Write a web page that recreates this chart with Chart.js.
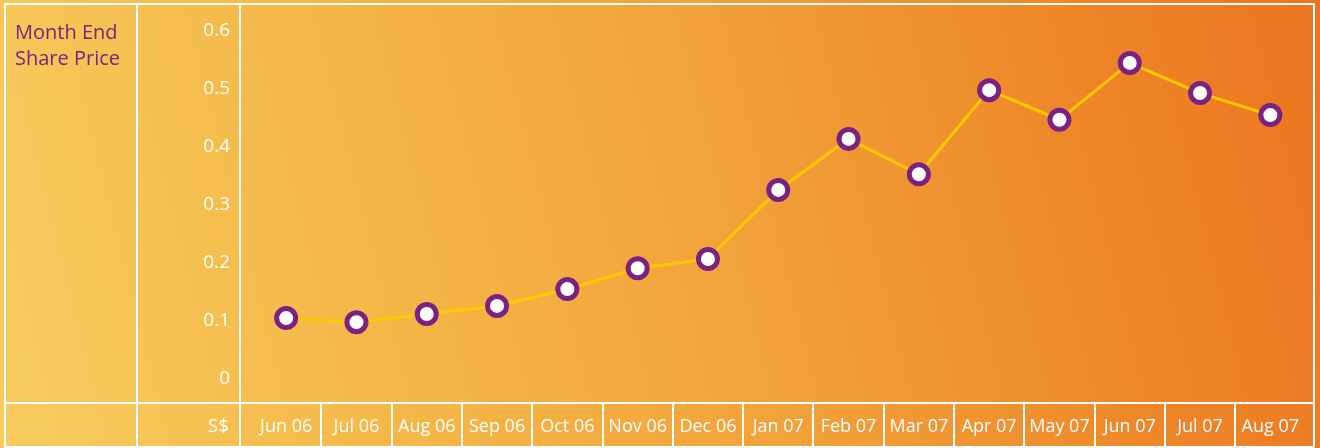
<!DOCTYPE html>
<html>
<head>
<meta charset="utf-8">
<script src="https://cdn.jsdelivr.net/npm/chart.js@4"></script>
<style>
  html, body { margin: 0; padding: 0; }
  body {
    width: 1320px; height: 448px; overflow: hidden;
    background: linear-gradient(76deg, #f7cd5e 0%, #f4b647 30%, #f2a23a 55%, #ee8a2a 78%, #ec7520 100%);
  }
  #wrap { position: relative; width: 1320px; height: 448px; }
</style>
</head>
<body>
<div id="wrap"><canvas id="priceChart" width="1320" height="448"></canvas></div>
<script>
const months = ['Jun 06', 'Jul 06', 'Aug 06', 'Sep 06', 'Oct 06', 'Nov 06', 'Dec 06',
                'Jan 07', 'Feb 07', 'Mar 07', 'Apr 07', 'May 07', 'Jun 07', 'Jul 07', 'Aug 07'];
const sharePrice = [0.105, 0.098, 0.112, 0.126, 0.155, 0.191, 0.207,
                    0.326, 0.414, 0.353, 0.498, 0.447, 0.545, 0.493, 0.455];
const yTicks = [0, 0.1, 0.2, 0.3, 0.4, 0.5, 0.6];

const FONT = '"Open Sans", "DejaVu Sans", sans-serif';
const PURPLE = '#7a2183';

// white table lines and side labels
const framePlugin = {
    id: 'frame',
    beforeDatasetsDraw(chart) {
        const ctx = chart.ctx;
        const xs = chart.scales.x;
        ctx.save();
        ctx.strokeStyle = '#ffffff';
        ctx.lineWidth = 2;
        ctx.beginPath();
        // outer box
        ctx.rect(5, 4, 1309, 443);
        // column lines
        ctx.moveTo(137, 4); ctx.lineTo(137, 447);
        ctx.moveTo(240, 4); ctx.lineTo(240, 447);
        // bottom row line
        ctx.moveTo(5, 403); ctx.lineTo(1314, 403);
        // separators between month cells
        for (let i = 0; i < months.length - 1; i++) {
            const mid = (xs.getPixelForValue(i) + xs.getPixelForValue(i + 1)) / 2;
            ctx.moveTo(Math.round(mid), 403); ctx.lineTo(Math.round(mid), 447);
        }
        ctx.stroke();

        ctx.fillStyle = PURPLE;
        ctx.font = '20px ' + FONT;
        ctx.textAlign = 'left';
        ctx.textBaseline = 'alphabetic';
        ctx.fillText('Month End', 15, 39);
        ctx.fillText('Share Price', 15, 65);

        ctx.fillStyle = '#ffffff';
        ctx.font = '19px ' + FONT;
        ctx.textAlign = 'right';
        ctx.fillText('S$', 229, 432);
        ctx.restore();
    }
};

const ctx = document.getElementById('priceChart').getContext('2d');
const priceChart = new Chart(ctx, {
    type: 'line',
    data: {
        labels: months,
        datasets: [{
            label: 'Month End Share Price',
            data: sharePrice,
            borderColor: '#ffc800',
            borderWidth: 3,
            pointRadius: 9.5,
            pointHoverRadius: 9.5,
            pointBackgroundColor: '#ffffff',
            pointBorderColor: PURPLE,
            pointBorderWidth: 5,
            tension: 0,
            clip: false
        }]
    },
    options: {
        responsive: false,
        animation: false,
        devicePixelRatio: 1,
        layout: { padding: { top: 31, right: 10, left: 0, bottom: 0 } },
        plugins: {
            legend: { display: false },
            tooltip: { enabled: false }
        },
        scales: {
            x: {
                offset: true,
                grid: { display: false, drawTicks: false },
                border: { display: false },
                afterFit(scale) {
                    scale.height = 69;
                    scale.paddingLeft = 0;
                    scale.paddingRight = 0;
                },
                ticks: {
                    color: '#ffffff',
                    padding: 37,
                    maxRotation: 0,
                    autoSkip: false,
                    font: { family: FONT, size: 18 }
                }
            },
            y: {
                min: 0,
                max: 0.6,
                afterFit(scale) {
                    scale.width = 251;
                    scale.paddingTop = 0;
                    scale.paddingBottom = 0;
                },
                afterBuildTicks(scale) { scale.ticks = yTicks.map(v => ({ value: v })); },
                grid: { display: false, drawTicks: false },
                border: { display: false },
                ticks: {
                    color: '#ffffff',
                    padding: 21,
                    autoSkip: false,
                    font: { family: FONT, size: 19 },
                    callback: v => v === 0 ? '0' : v.toFixed(1)
                }
            }
        }
    },
    plugins: [framePlugin]
});
</script>
</body>
</html>
